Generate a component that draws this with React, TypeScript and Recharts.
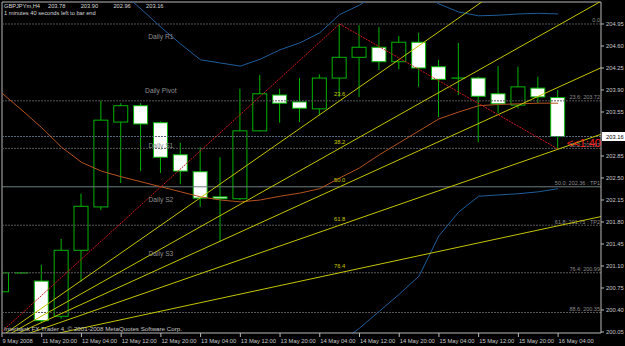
import React from 'react';
import { ComposedChart, Bar, Line, XAxis, YAxis, ReferenceLine, ReferenceDot } from 'recharts';

// ---- data (GBPJPYm, H4) ----
const opens = [200.69, 200.99, 200.86, 200.30, 201.35, 202.04, 203.39, 203.65, 203.38, 202.87, 202.60, 202.20, 202.17, 203.25, 203.82, 203.71, 203.60, 204.09, 204.42, 204.58, 204.35, 204.66, 204.27, 204.09, 204.09, 203.84, 203.66, 203.93, 203.78];
const highs = [201.20, 201.00, 201.12, 201.53, 202.25, 203.73, 203.69, 203.69, 203.40, 203.06, 202.99, 202.83, 203.92, 204.14, 203.92, 204.09, 204.15, 204.95, 204.93, 204.90, 204.76, 204.81, 204.38, 204.65, 204.11, 204.28, 204.27, 204.11, 203.90];
const lows = [200.56, 200.98, 200.19, 200.26, 200.85, 201.99, 202.42, 202.61, 202.58, 202.40, 202.04, 201.48, 202.15, 203.24, 203.38, 203.39, 203.50, 203.79, 203.79, 204.22, 204.23, 203.95, 203.47, 203.82, 203.07, 203.53, 203.61, 203.69, 202.96];
const closes = [200.99, 200.99, 200.23, 201.35, 202.05, 203.42, 203.65, 203.36, 202.83, 202.61, 202.18, 202.17, 203.25, 203.84, 203.69, 203.61, 204.09, 204.42, 204.58, 204.35, 204.66, 204.25, 204.07, 204.08, 203.80, 203.68, 203.95, 203.79, 203.16];
const maValues = [203.85, 203.58, 203.30, 202.99, 202.75, 202.61, 202.52, 202.44, 202.36, 202.28, 202.20, 202.15, 202.12, 202.15, 202.21, 202.26, 202.33, 202.50, 202.66, 202.87, 203.06, 203.25, 203.44, 203.55, 203.65, 203.67, 203.68, 203.69, 203.69];
const bbUpper = [206.3, 206.2, 206.1, 205.95, 205.85, 205.7, 205.46, 205.19, 204.90, 204.63, 204.38, 204.33, 204.28, 204.39, 204.54, 204.65, 204.81, 205.10, 205.25, 205.46, 205.52, 205.46, 205.27, 205.14, 205.08, 205.09, 205.11, 205.12, 205.11];
const bbLower = [199.3, 199.2, 199.1, 199.0, 199.0, 199.1, 199.2, 199.3, 199.4, 199.5, 199.55, 199.6, 199.65, 199.7, 199.7, 199.75, 199.8, 199.88, 200.11, 200.38, 200.65, 200.94, 201.58, 201.96, 202.21, 202.23, 202.25, 202.28, 202.33];

const xTicks = [0, 2, 4, 6, 8, 10, 12, 14, 16, 18, 20, 22, 24, 26, 28];
const xTickLabels = ['9 May 2008', '11 May 20:00', '12 May 04:00', '12 May 12:00', '12 May 20:00', '13 May 04:00', '13 May 12:00', '13 May 20:00', '14 May 04:00', '14 May 12:00', '14 May 20:00', '15 May 04:00', '15 May 12:00', '15 May 20:00', '16 May 04:00'];
const yTicks = [200.05, 200.4, 200.75, 201.1, 201.45, 201.8, 202.15, 202.5, 202.85, 203.55, 203.9, 204.25, 204.6, 204.95];

// header: symbol + current bar OHLC
const symbolLabel = 'GBPJPYm,H4';
const headerOHLC = ['203.78', '203.90', '202.96', '203.16'];
const timerText = '1 minutes 40 seconds left to bar end';
const copyrightText = 'Interbank FX Trader 4, © 2001-2008 MetaQuotes Software Corp.';

// fibonacci tool anchors (bar index, price)
const fibA = { x: -1, y: 199.77 };
const fibB = { x: 17, y: 204.95 };
const trendEnd = { x: 28, y: 202.96 };
const retraceLevels = [0, 0.236, 0.382, 0.5, 0.618, 0.764, 0.886];
const retraceLabels = ['0.0', '23.6: 203.72', '38.2: 202.97', '50.0: 202.36 : TP1', '61.8: 201.75 : TP2', '76.4: 200.99', '88.6: 200.35'];
const fanLevels = [0.236, 0.382, 0.5, 0.618, 0.764];
const fanLabels = ['23.6', '38.2', '50.0', '61.8', '76.4'];
const fanEndX = 31;

const pivotLevels = [204.66, 203.80, 202.93, 202.07, 201.21];
const pivotLabels = ['Daily R1', 'Daily Pivot', 'Daily S1', 'Daily S2', 'Daily S3'];
const pivotLabelBar = 8;

const currentPrice = 203.16;
const X_MIN = 0;
const X_MAX = 30.16;
const Y_MIN = 200.034;
const Y_MAX = 205.3;

const FONT = '"Liberation Sans", Arial, sans-serif';
const GREEN = '#00b400';

const data = opens.map((o, i) => ({
  i,
  o,
  h: highs[i],
  l: lows[i],
  c: closes[i],
  range: [lows[i], highs[i]],
  ma: maValues[i],
  up: bbUpper[i],
  lo: bbLower[i],
}));

const fibPrice = (lv: number) => fibB.y - lv * (fibB.y - fibA.y);

const Candle = (props: any) => {
  const { x, y, width, height } = props;
  const p = props.payload || props;
  if (x == null || y == null || !p) return null;
  const cx = x + width / 2;
  const k = height / (p.h - p.l);
  const yO = y + (p.h - p.o) * k;
  const yC = y + (p.h - p.c) * k;
  const top = Math.min(yO, yC);
  const bot = Math.max(yO, yC);
  const bull = p.c > p.o;
  const hw = 7;
  return (
    <g>
      <line x1={cx} x2={cx} y1={y} y2={y + height} stroke={GREEN} strokeWidth={1} />
      {bot - top < 1 ? (
        <line x1={cx - hw} x2={cx + hw} y1={top} y2={top} stroke={GREEN} strokeWidth={1.2} />
      ) : (
        <rect x={cx - hw} y={top} width={hw * 2} height={bot - top} fill={bull ? '#000' : '#fff'} stroke={GREEN} strokeWidth={1} />
      )}
    </g>
  );
};

const XTick = (props: any) => {
  const { x, y, payload } = props;
  const idx = xTicks.indexOf(payload.value);
  return (
    <text x={x + 0.5} y={y + 6} fontSize={5.8} fill="#c8c8c8" fontFamily={FONT} textAnchor="start">
      {idx >= 0 ? xTickLabels[idx] : ''}
    </text>
  );
};

const rightLabel = (text: string) => (p: any) => {
  const vb = p.viewBox || {};
  return (
    <text x={(vb.x || 0) + (vb.width || 0) - 1} y={(vb.y || 0) - 1.5} textAnchor="end" fontSize={5.5} fill="#8c8c8c" fontFamily={FONT}>
      {text}
    </text>
  );
};

const dotLabel = (text: string, color: string, size: number, dy: number) => (p: any) => {
  const vb = p.viewBox || {};
  const cx = (vb.x || 0) + (vb.width || 0) / 2;
  const cy = (vb.y || 0) + (vb.height || 0) / 2;
  return (
    <text x={cx} y={cy - dy} textAnchor="middle" fontSize={size} fill={color} fontFamily={FONT}>
      {text}
    </text>
  );
};

const priceBox = (p: any) => {
  const vb = p.viewBox || {};
  const x0 = (vb.x || 0) + (vb.width || 0) + 1;
  const y0 = vb.y || 0;
  return (
    <g>
      <rect x={x0} y={y0 - 4.5} width={23} height={9} fill="#ffffff" />
      <text x={x0 + 4} y={y0 + 2} fontSize={5.8} fill="#000" fontFamily={FONT}>
        {currentPrice.toFixed(2)}
      </text>
    </g>
  );
};

export default function App() {
  return (
    <div style={{ position: 'absolute', left: 0, top: 0, width: 625, height: 346, background: '#000', overflow: 'hidden' }}>
      <ComposedChart width={625} height={346} data={data} margin={{ top: 2, right: 0, bottom: 0, left: 2 }}>
        <XAxis
          type="number"
          dataKey="i"
          domain={[X_MIN, X_MAX]}
          allowDataOverflow
          ticks={xTicks}
          interval={0}
          height={13}
          tick={<XTick />}
          tickSize={4}
          tickMargin={0}
          stroke="#b8b8b8"
          tickLine={{ stroke: '#b8b8b8' }}
        />
        <YAxis
          orientation="right"
          domain={[Y_MIN, Y_MAX]}
          allowDataOverflow
          ticks={yTicks}
          interval={0}
          width={24}
          tickSize={3}
          tickMargin={2}
          stroke="#b8b8b8"
          tickFormatter={(v: number) => v.toFixed(2)}
          tick={{ fontSize: 5.8, fill: '#c8c8c8', fontFamily: FONT }}
        />

        {/* frame */}
        <ReferenceLine x={X_MIN} stroke="#b8b8b8" />
        <ReferenceLine y={Y_MAX} stroke="#b8b8b8" />

        {/* fibonacci retracement levels */}
        {retraceLevels.map((lv, k) => (
          <ReferenceLine
            key={'fr' + k}
            y={fibPrice(lv)}
            stroke={lv === 0.5 ? '#6e7e7e' : '#575757'}
            strokeDasharray={lv === 0.5 ? undefined : '2 1'}
            label={rightLabel(retraceLabels[k])}
          />
        ))}

        {/* current price line */}
        <ReferenceLine y={currentPrice} stroke="#56687a" strokeDasharray="2 1" label={priceBox} />

        {/* bollinger bands and moving average */}
        <Line dataKey="up" type="linear" stroke="#1f5d9a" strokeWidth={1} dot={false} isAnimationActive={false} />
        <Line dataKey="lo" type="linear" stroke="#1f5d9a" strokeWidth={1} dot={false} isAnimationActive={false} />
        <Line dataKey="ma" type="linear" stroke="#b4521f" strokeWidth={1} dot={false} isAnimationActive={false} />

        {/* fibonacci fan */}
        {fanLevels.map((lv, k) => {
          const by = fibPrice(lv);
          const slope = (by - fibA.y) / (fibB.x - fibA.x);
          return (
            <ReferenceLine
              key={'fan' + k}
              segment={[
                { x: fibA.x, y: fibA.y },
                { x: fanEndX, y: fibA.y + slope * (fanEndX - fibA.x) },
              ]}
              ifOverflow="hidden"
              stroke="#c4c400"
              strokeWidth={1}
            />
          );
        })}
        <ReferenceLine segment={[fibA, fibB]} ifOverflow="hidden" stroke="#d01818" strokeDasharray="2 1" />
        <ReferenceLine segment={[fibB, trendEnd]} ifOverflow="hidden" stroke="#d01818" strokeDasharray="2 1" />

        {/* candles */}
        <Bar dataKey="range" barSize={15} shape={<Candle />} isAnimationActive={false} />

        {/* fan labels */}
        {fanLevels.map((lv, k) => (
          <ReferenceDot key={'fl' + k} x={fibB.x} y={fibPrice(lv)} r={0} fill="none" stroke="none" label={dotLabel(fanLabels[k], '#c8c800', 5.8, 4.5)} />
        ))}

        {/* daily pivot labels */}
        {pivotLevels.map((v, k) => (
          <ReferenceDot key={'pv' + k} x={pivotLabelBar} y={v} r={0} fill="none" stroke="none" label={dotLabel(pivotLabels[k], '#8e8e8e', 6.7, 3)} />
        ))}
      </ComposedChart>

      <svg width={625} height={346} style={{ position: 'absolute', left: 0, top: 0, pointerEvents: 'none' }}>
        <text x={4} y={8} fontSize={5.7} fill="#d8d8d8" fontFamily={FONT}>
          {symbolLabel}
        </text>
        {headerOHLC.map((t, k) => (
          <text key={'h' + k} x={48 + k * 32.7} y={8} fontSize={5.7} fill="#d8d8d8" fontFamily={FONT}>
            {t}
          </text>
        ))}
        <text x={4} y={15} fontSize={5.7} fill="#d8d8d8" fontFamily={FONT}>
          {timerText}
        </text>
        <text x={4} y={331} fontSize={6.2} fill="#c8c8c8" fontFamily={FONT}>
          {copyrightText}
        </text>
        <text x={601} y={147} fontSize={11} fill="#ff2020" fontFamily={FONT} textAnchor="end">
          {'<<1:40'}
        </text>
      </svg>
    </div>
  );
}
